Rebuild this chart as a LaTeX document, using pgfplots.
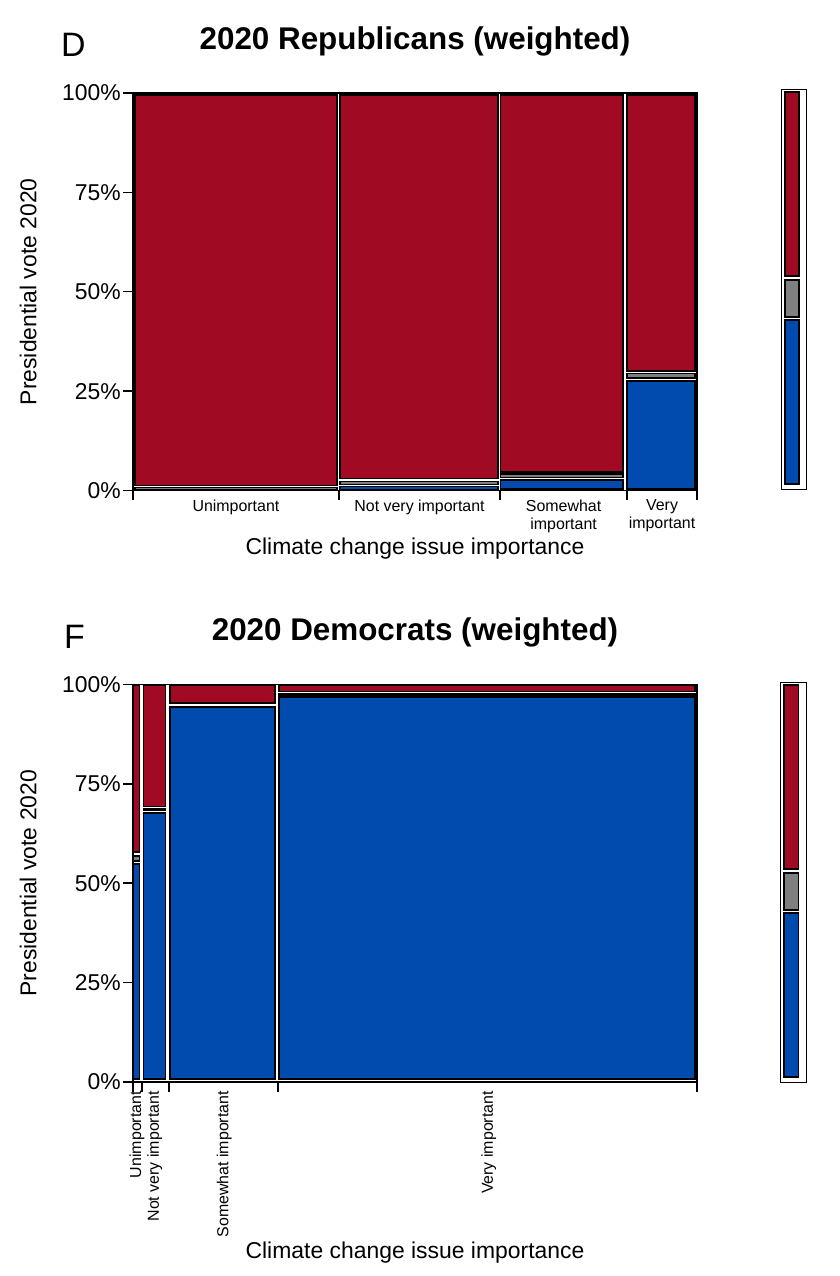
\documentclass[border=0pt]{standalone}
\usepackage{pgfplots}
\pgfplotsset{compat=1.18}
\usepackage{fontspec}
\setmainfont{Liberation Sans}
\definecolor{trump}{HTML}{A00B23}
\definecolor{biden}{HTML}{004BAD}
\definecolor{other}{HTML}{7F7F7F}

% one mosaic tile: colour, x0, y0, x1, y1
\newcommand{\tile}[5]{\addplot[draw=black, line width=1.5bp, line join=miter, fill=#1]
  coordinates {(#2,#3) (#4,#3) (#4,#5) (#2,#5)} -- cycle;}

\newcommand{\bigfont}{\fontsize{23}{27}\selectfont}
\newcommand{\smallfont}{\fontsize{16}{18}\selectfont}

\pgfplotsset{
  mosaic/.style={
    scale only axis, width=564bp, height=397.5bp,
    xmin=0, xmax=100, ymin=0, ymax=100,
    axis line style={line width=1.5bp},
    tick align=outside, major tick length=10bp,
    tick style={line width=1.5bp, black},
    xtick pos=bottom, ytick pos=left,
    ytick={0,25,50,75,100},
    yticklabels={0\%,25\%,50\%,75\%,100\%},
    yticklabel style={font=\bigfont, inner sep=2bp},
    xticklabels={},
    extra x tick style={major tick length=0pt},
    xticklabel style={font=\smallfont, align=center, yshift=-9bp, inner sep=0pt},
    ylabel={Presidential vote 2020},
    ylabel style={font=\bigfont, at={(axis description cs:-0.186,0.5)}, anchor=center},
    xlabel={Climate change issue importance},
    xlabel style={font=\bigfont, at={(axis description cs:0.5,0)}, anchor=center},
    title style={font=\fontsize{31.5}{35}\selectfont\bfseries,
      at={(axis description cs:0.5,1)}, anchor=center, yshift=46bp},
  },
  keybar/.style={
    scale only axis, width=25bp, height=400bp,
    xmin=0, xmax=1, ymin=0, ymax=1,
    axis line style={line width=1bp}, ticks=none,
  },
}

\begin{document}
\begin{tikzpicture}
\path (0,0) rectangle (840bp,1276bp);

% ---------- D: 2020 Republicans ----------
\node[anchor=west, font=\fontsize{34}{38}\selectfont, inner sep=0pt] at (61bp,1231bp) {D};
\begin{axis}[mosaic, at={(133bp,785.5bp)}, anchor=south west,
  title={2020 Republicans (weighted)},
  xtick={0,36.5,65.1,87.6,100},
  extra x ticks={18.25,50.8,76.35,93.8},
  extra x tick labels={Unimportant,Not very important,{Somewhat\\important},{Very\\important}},
  xlabel style={yshift=-58bp}]
  % Unimportant
  \tile{other}{0.35}{0.3}{36.2}{0.7}
  \tile{trump}{0.35}{1.2}{36.2}{99.5}
  % Not very important
  \tile{biden}{36.7}{0.3}{64.7}{1.0}
  \tile{other}{36.7}{1.5}{64.7}{2.3}
  \tile{trump}{36.7}{3.0}{64.7}{99.5}
  % Somewhat important
  \tile{biden}{65.2}{0.4}{86.9}{2.7}
  \tile{other}{65.2}{3.3}{86.9}{4.1}
  \tile{trump}{65.2}{4.7}{86.9}{99.5}
  % Very important
  \tile{biden}{87.6}{0.4}{99.6}{27.5}
  \tile{other}{87.6}{28.3}{99.6}{29.4}
  \tile{trump}{87.6}{30.1}{99.6}{99.5}
  \node[anchor=west, font=\bigfont, inner sep=0pt] at (rel axis cs:1,0.771) [xshift=5bp] {Trump};
  \node[anchor=west, font=\bigfont, inner sep=0pt] at (rel axis cs:1,0.484) [xshift=5bp] {Other};
  \node[anchor=west, font=\bigfont, inner sep=0pt] at (rel axis cs:1,0.223) [xshift=5bp] {Biden};
\end{axis}
\begin{axis}[keybar, at={(781bp,786bp)}, anchor=south west]
  \tile{trump}{0.16}{0.535}{0.72}{0.995}
  \tile{other}{0.16}{0.4325}{0.72}{0.525}
  \tile{biden}{0.16}{0.015}{0.72}{0.425}
\end{axis}

% ---------- F: 2020 Democrats ----------
\node[anchor=west, font=\fontsize{34}{38}\selectfont, inner sep=0pt] at (64bp,639bp) {F};
\begin{axis}[mosaic, at={(133bp,194bp)}, anchor=south west,
  title={2020 Democrats (weighted)},
  xtick={0,1.6,6.4,25.7,100},
  extra x ticks={0.55,3.7,16.0,62.9},
  extra x tick labels={Unimportant,Not very important,Somewhat important,Very important},
  xticklabel style={rotate=90, anchor=east, yshift=-1bp},
  xlabel style={yshift=-171bp}]
  % Unimportant
  \tile{biden}{0.1}{0.8}{1.15}{54.8}
  \tile{other}{0.1}{55.6}{1.15}{56.9}
  \tile{trump}{0.1}{57.9}{1.15}{99.7}
  % Not very important
  \tile{biden}{1.83}{0.8}{5.8}{67.7}
  \tile{other}{1.83}{68.3}{5.8}{68.7}
  \tile{trump}{1.83}{69.3}{5.8}{99.7}
  % Somewhat important
  \tile{biden}{6.56}{0.8}{25.2}{94.3}
  \tile{trump}{6.56}{95.4}{25.2}{99.7}
  % Very important
  \tile{biden}{25.9}{0.8}{99.6}{96.8}
  \tile{other}{25.9}{97.3}{99.6}{97.6}
  \tile{trump}{25.9}{98.2}{99.6}{99.7}
  \node[anchor=west, font=\bigfont, inner sep=0pt] at (rel axis cs:1,0.771) [xshift=5bp] {Trump};
  \node[anchor=west, font=\bigfont, inner sep=0pt] at (rel axis cs:1,0.484) [xshift=5bp] {Other};
  \node[anchor=west, font=\bigfont, inner sep=0pt] at (rel axis cs:1,0.219) [xshift=5bp] {Biden};
\end{axis}
\begin{axis}[keybar, at={(780bp,193bp)}, anchor=south west, width=26bp]
  \tile{trump}{0.16}{0.535}{0.72}{0.995}
  \tile{other}{0.16}{0.4325}{0.72}{0.525}
  \tile{biden}{0.16}{0.015}{0.72}{0.425}
\end{axis}
\end{tikzpicture}
\end{document}
